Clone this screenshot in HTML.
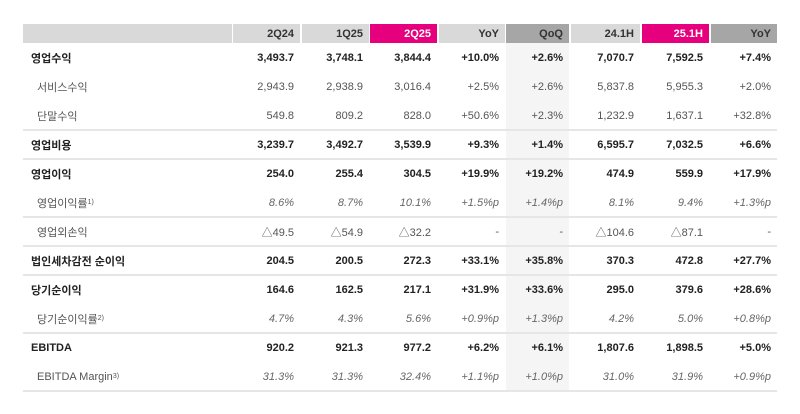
<!DOCTYPE html>
<html><head><meta charset="utf-8"><style>
body{margin:0;width:800px;height:414px;background:#fff;position:relative;overflow:hidden;font-family:"Liberation Sans","Noto Sans CJK KR",sans-serif;color:#333}
.c{position:absolute;box-sizing:border-box;font-size:11px;display:flex;align-items:center;justify-content:flex-end;padding-right:6px;white-space:nowrap}
.h{top:24px;height:19px;font-weight:bold;color:#333}
.lbl{justify-content:flex-start;padding-left:8px}
.sub{padding-left:14px;color:#555}
.b{font-weight:bold;color:#222}
.i{font-style:italic;color:#666}
.n{color:#555}
.line{position:absolute;left:23px;width:754px;height:2px;background:#e6e6e6}
sup{font-size:7px;vertical-align:super;line-height:0}
</style></head><body>
<div style="position:absolute;left:506px;top:43px;width:63px;height:348px;background:#f5f5f5"></div>
<div id="t"></div>
<script>
const cols=[[23,209],[233,67],[302,67],[370,67],[439,66],[506,63],[571,69],[642,67],[711,66]];
const headers=['','2Q24','1Q25','2Q25','YoY','QoQ','24.1H','25.1H','YoY'];
const headBg=['#d9d9d9','#d9d9d9','#d9d9d9','#e6007e','#d9d9d9','#a6a6a6','#d9d9d9','#e6007e','#a6a6a6'];
const labels=['영업수익','서비스수익','단말수익','영업비용','영업이익','영업이익률<sup>1)</sup>','영업외손익','법인세차감전 순이익','당기순이익','당기순이익률<sup>2)</sup>','EBITDA','EBITDA Margin<sup>3)</sup>'];
const styles=['b','n','n','b','b','i','n','b','b','i','b','i'];
const values=[
['3,493.7','3,748.1','3,844.4','+10.0%','+2.6%','7,070.7','7,592.5','+7.4%'],
['2,943.9','2,938.9','3,016.4','+2.5%','+2.6%','5,837.8','5,955.3','+2.0%'],
['549.8','809.2','828.0','+50.6%','+2.3%','1,232.9','1,637.1','+32.8%'],
['3,239.7','3,492.7','3,539.9','+9.3%','+1.4%','6,595.7','7,032.5','+6.6%'],
['254.0','255.4','304.5','+19.9%','+19.2%','474.9','559.9','+17.9%'],
['8.6%','8.7%','10.1%','+1.5%p','+1.4%p','8.1%','9.4%','+1.3%p'],
['△49.5','△54.9','△32.2','-','-','△104.6','△87.1','-'],
['204.5','200.5','272.3','+33.1%','+35.8%','370.3','472.8','+27.7%'],
['164.6','162.5','217.1','+31.9%','+33.6%','295.0','379.6','+28.6%'],
['4.7%','4.3%','5.6%','+0.9%p','+1.3%p','4.2%','5.0%','+0.8%p'],
['920.2','921.3','977.2','+6.2%','+6.1%','1,807.6','1,898.5','+5.0%'],
['31.3%','31.3%','32.4%','+1.1%p','+1.0%p','31.0%','31.9%','+0.9%p']];
const lineAfter=[2,3,5,6,7,9,11];
const t=document.getElementById('t');
headers.forEach((h,j)=>{const d=document.createElement('div');


d.className='c h';d.style.left=cols[j][0]+'px';d.style.width=cols[j][1]+'px';d.style.background=headBg[j];
if(headBg[j]=='#e6007e')d.style.color='#fff';d.textContent=h;t.appendChild(d);});
labels.forEach((l,i)=>{const top=43+29*i;const st=styles[i];
const d=document.createElement('div');


d.className='c lbl '+(st=='b'?'b':'sub');d.style.left='23px';d.style.width='209px';d.style.top=top+'px';d.style.height='29px';d.innerHTML=l;t.appendChild(d);
values[i].forEach((v,j)=>{const e=document.createElement('div');


e.className='c '+st;e.style.left=cols[j+1][0]+'px';e.style.width=cols[j+1][1]+'px';e.style.top=top+'px';e.style.height='29px';e.textContent=v;t.appendChild(e);});
if(lineAfter.includes(i)){const ln=document.createElement('div');


ln.className='line';ln.style.top=(top+28)+'px';t.appendChild(ln);}
});
</script>
</body></html>
